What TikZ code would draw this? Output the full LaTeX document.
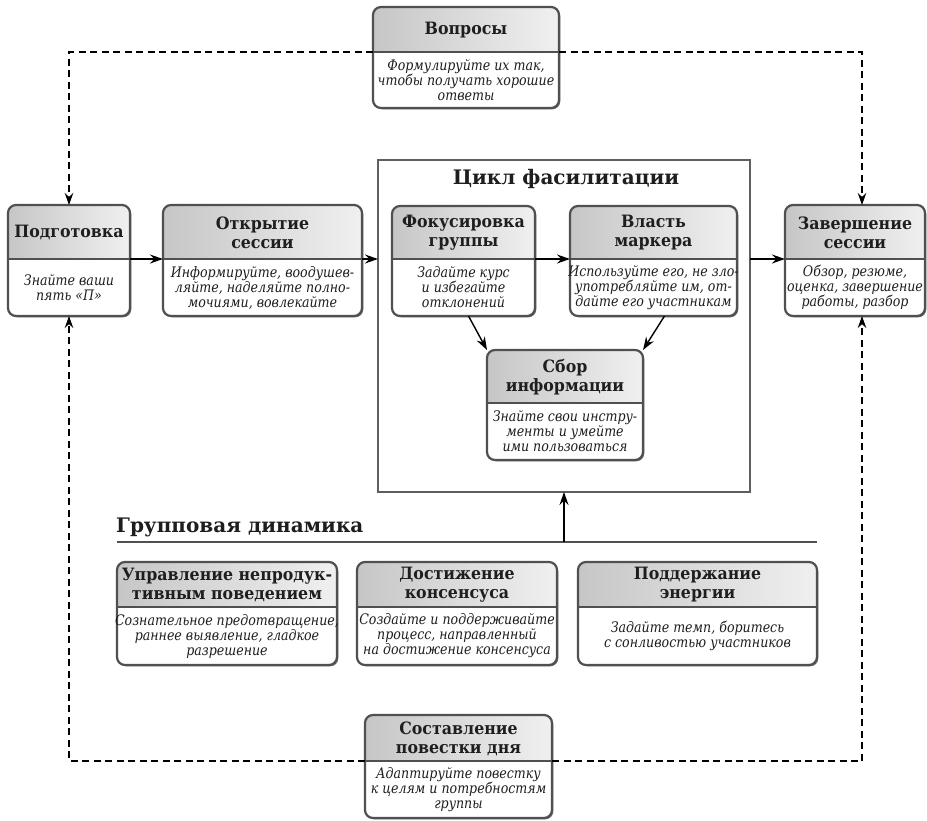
\documentclass[tikz,border=0pt]{standalone}
\usepackage{fontspec}
\setmainfont{DejaVu Serif}
\newfontfamily\bodyfont[FakeStretch=0.87]{DejaVu Serif}
\newfontfamily\headfont[FakeStretch=0.93]{DejaVu Serif}
\usetikzlibrary{arrows.meta,calc}
\definecolor{bordc}{HTML}{505050}
\definecolor{hdleft}{HTML}{C6C6C6}
\definecolor{hdright}{HTML}{F0F0F0}
\definecolor{framec}{HTML}{5F5F5F}
\definecolor{txtc}{HTML}{1E1E1E}
\tikzset{
  boxshape/.style={draw=bordc, line width=2.2pt, rounded corners=8pt, inner sep=0pt, outer sep=0pt},
  sepline/.style={draw=bordc, line width=1.6pt},
  htext/.style={align=center, text=txtc, font=\headfont\fontsize{17}{19}\selectfont\bfseries, inner sep=0pt},
  btext/.style={align=center, text=txtc, font=\bodyfont\fontsize{14.5}{15}\selectfont\itshape, inner sep=0pt},
  ttext/.style={text=txtc, font=\fontsize{20}{22}\selectfont\bfseries, inner sep=0pt},
  arr/.style={draw=black, line width=1.4pt, -{Stealth[length=13pt,width=9pt]}},
  dashline/.style={draw=black, line width=1.1pt, dash pattern=on 7pt off 4.5pt, -{Stealth[length=12pt,width=8.5pt]}},
  framebox/.style={draw=framec, line width=2.6pt, inner sep=0pt, outer sep=0pt},
}
\newcommand\FBox[8]{%
  \fill[black!55, rounded corners=8pt] ({#2+1.3},{#3+1.3}) rectangle ({#4+1.3},{#5+1.3});
  \fill[white, rounded corners=8pt] (#2,#3) rectangle (#4,#5);
  \begin{scope}
    \clip[rounded corners=8pt] (#2,#3) rectangle (#4,#5);
    \shade[left color=hdleft, right color=hdright] (#2,#3) rectangle (#4,#6);
  \end{scope}
  \draw[sepline] (#2,#6) -- (#4,#6);
  \node[boxshape, minimum width={(#4-#2)*1pt}, minimum height={(#5-#3)*1pt}] (#1) at ({(#2+#4)/2},{(#3+#5)/2}) {};
  \node[htext] (#1-h) at ({(#2+#4)/2},{(#3+#6)/2+0.5}) {#7};
  \node[btext] (#1-b) at ({(#2+#4)/2},{(#6+#5)/2}) {#8};
  \coordinate (#1-sw) at (#2,#6);
  \coordinate (#1-se) at (#4,#6);
}
\begin{document}
\begin{tikzpicture}[x=1pt,y=-1pt]
\useasboundingbox (0,0) rectangle (927,820);
\fill[white] (0,0) rectangle (927,820);

% frame of the facilitation cycle
\node[framebox, minimum width=372pt, minimum height=332pt] (cycle) at (564,326) {};
\node[ttext] (cycletitle) at (566,179) {Цикл фасилитации};

\FBox{quest}{373}{7}{559}{108}{52}{Вопросы}{Формулируйте их так,\\ чтобы получать хорошие\\ ответы}
\FBox{prep}{8}{205}{130}{316}{259}{Подготовка}{Знайте ваши\\ пять «П»}
\FBox{open}{163}{205}{362}{316}{259}{Открытие\\ сессии}{Информируйте, воодушев-\\ляйте, наделяйте полно-\\мочиями, вовлекайте}
\FBox{focus}{392}{206}{535}{316}{259}{Фокусировка\\ группы}{Задайте курс\\ и избегайте\\ отклонений}
\FBox{power}{570}{206}{737}{316}{259}{Власть\\ маркера}{Используйте его, не зло-\\употребляйте им, от-\\дайте его участникам}
\FBox{collect}{487}{350}{643}{460}{403}{Сбор\\ информации}{Знайте свои инстру-\\менты и умейте\\ ими пользоваться}
\FBox{close}{785}{205}{925}{316}{259}{Завершение\\ сессии}{Обзор, резюме,\\ оценка, завершение\\ работы, разбор}

% group dynamics
\node[ttext, anchor=west] (dyntitle) at (116,527) {Групповая динамика};
\coordinate (dynl) at (117,542);
\coordinate (dynr) at (817,542);
\coordinate (dynup) at (564,542);
\draw[draw=bordc, line width=2.2pt] (dynl) -- (dynr);

\FBox{behav}{117}{562}{337}{665}{607}{Управление непродук-\\тивным поведением}{Сознательное предотвращение,\\ раннее выявление, гладкое\\ разрешение}
\FBox{cons}{357}{562}{557}{665}{607}{Достижение\\ консенсуса}{Создайте и поддерживайте\\ процесс, направленный\\ на достижение консенсуса}
\FBox{energy}{578}{562}{817}{665}{607}{Поддержание\\ энергии}{Задайте темп, боритесь\\ с сонливостью участников}

\FBox{agenda}{365}{715}{552}{818}{761}{Составление\\ повестки дня}{Адаптируйте повестку\\ к целям и потребностям\\ группы}

% solid connectors
\draw[arr] (prep-se) -- (open-sw);
\draw[arr] (open-se) -- (open-se -| cycle.west);
\draw[arr] (focus-se) -- (power-sw);
\draw[arr] (close-sw -| cycle.east) -- (close-sw);
\draw[arr] ([xshift=5pt]focus.south) -- (collect.north west);
\draw[arr] ([xshift=11pt]power.south) -- (collect.north east);
\draw[arr] (dynup) -- (dynup |- cycle.south);

% dashed connectors
\draw[dashline] (quest-sw) -| (prep.north);
\draw[dashline] (quest-se) -| ([xshift=7pt]close.north);
\draw[dashline] (agenda-sw) -| (prep.south);
\draw[dashline] (agenda-se) -| ([xshift=7pt]close.south);
\end{tikzpicture}
\end{document}
